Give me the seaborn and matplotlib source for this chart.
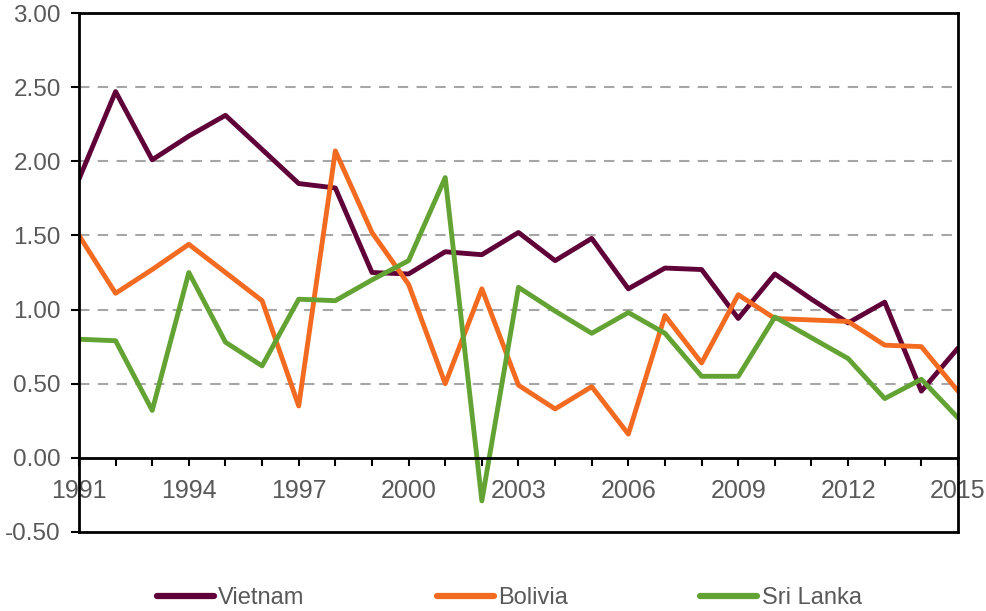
import numpy as np
import pandas as pd
import matplotlib
matplotlib.use("Agg")
import matplotlib.pyplot as plt
from matplotlib.ticker import MultipleLocator, FormatStrFormatter
import seaborn as sns

# Data
years = list(range(1991, 2016))
vietnam = [1.88, 2.47, 2.01, 2.17, 2.31, 2.08, 1.85, 1.82, 1.25, 1.24, 1.39, 1.37, 1.52,
           1.33, 1.48, 1.14, 1.28, 1.27, 0.94, 1.24, 1.07, 0.91, 1.05, 0.45, 0.74]
bolivia = [1.50, 1.11, 1.27, 1.44, 1.25, 1.06, 0.35, 2.07, 1.52, 1.17, 0.50, 1.14, 0.49,
           0.33, 0.48, 0.16, 0.96, 0.64, 1.10, 0.94, 0.93, 0.92, 0.76, 0.75, 0.45]
sri_lanka = [0.80, 0.79, 0.32, 1.25, 0.78, 0.62, 1.07, 1.06, 1.20, 1.33, 1.89, -0.29, 1.15,
             0.99, 0.84, 0.98, 0.84, 0.55, 0.55, 0.95, 0.81, 0.67, 0.40, 0.53, 0.27]
countries = ["Vietnam", "Bolivia", "Sri Lanka"]
colors = {"Vietnam": "#600038", "Bolivia": "#F26B21", "Sri Lanka": "#62A333"}

df = pd.DataFrame({"Vietnam": vietnam, "Bolivia": bolivia, "Sri Lanka": sri_lanka}, index=years)
df = df.reset_index(names="year").melt(id_vars="year", var_name="country", value_name="value")

sns.set_style("white")
plt.rcParams["font.family"] = ["Liberation Sans", "DejaVu Sans"]

fig = plt.figure(figsize=(9.87, 6.11), dpi=100)
ax = fig.add_axes([0.080, 0.1293, 0.8906, 0.8494])

# Grid lines first so the series sit on top
for v in np.arange(0.5, 3.0, 0.5):
    ax.axhline(v, color="#A6A6A6", lw=1.5, ls=(0, (5, 4)), zorder=0)

sns.lineplot(data=df, x="year", y="value", hue="country", hue_order=countries,
             palette=colors, lw=3.5, ax=ax, legend=False, zorder=3)

ax.set_xlim(1991, 2015)
ax.set_ylim(-0.5, 3.0)
ax.set_xlabel("")
ax.set_ylabel("")

# y axis
ax.yaxis.set_major_locator(MultipleLocator(0.5))
ax.yaxis.set_major_formatter(FormatStrFormatter("%.2f"))

# x axis sits at zero
ax.spines["bottom"].set_position(("data", 0))
ax.set_xticks(years[::3])
ax.set_xticks(years, minor=True)
ax.axhline(-0.5, color="black", lw=2, clip_on=False, zorder=5)

for s in ax.spines.values():
    s.set_color("black")
    s.set_linewidth(2)
    s.set_zorder(5)

ax.tick_params(axis="both", which="both", direction="out", color="black",
               width=1.5, labelcolor="#595959", labelsize=18, bottom=True, left=True)
ax.tick_params(axis="x", which="both", length=6, pad=9)
ax.tick_params(axis="y", length=6, pad=7, labelsize=17.5)
ax.tick_params(axis="x", which="minor", labelbottom=False)

handles = [plt.Line2D([], [], color=colors[c], lw=4.5, solid_capstyle="round") for c in countries]
fig.legend(handles, countries, loc="center", bbox_to_anchor=(0.516, 0.021), ncol=3,
           frameon=False, fontsize=17, handlelength=2.4, handletextpad=0.2,
           columnspacing=5.6, labelcolor="#595959")

fig.savefig("out.png", dpi=100)
